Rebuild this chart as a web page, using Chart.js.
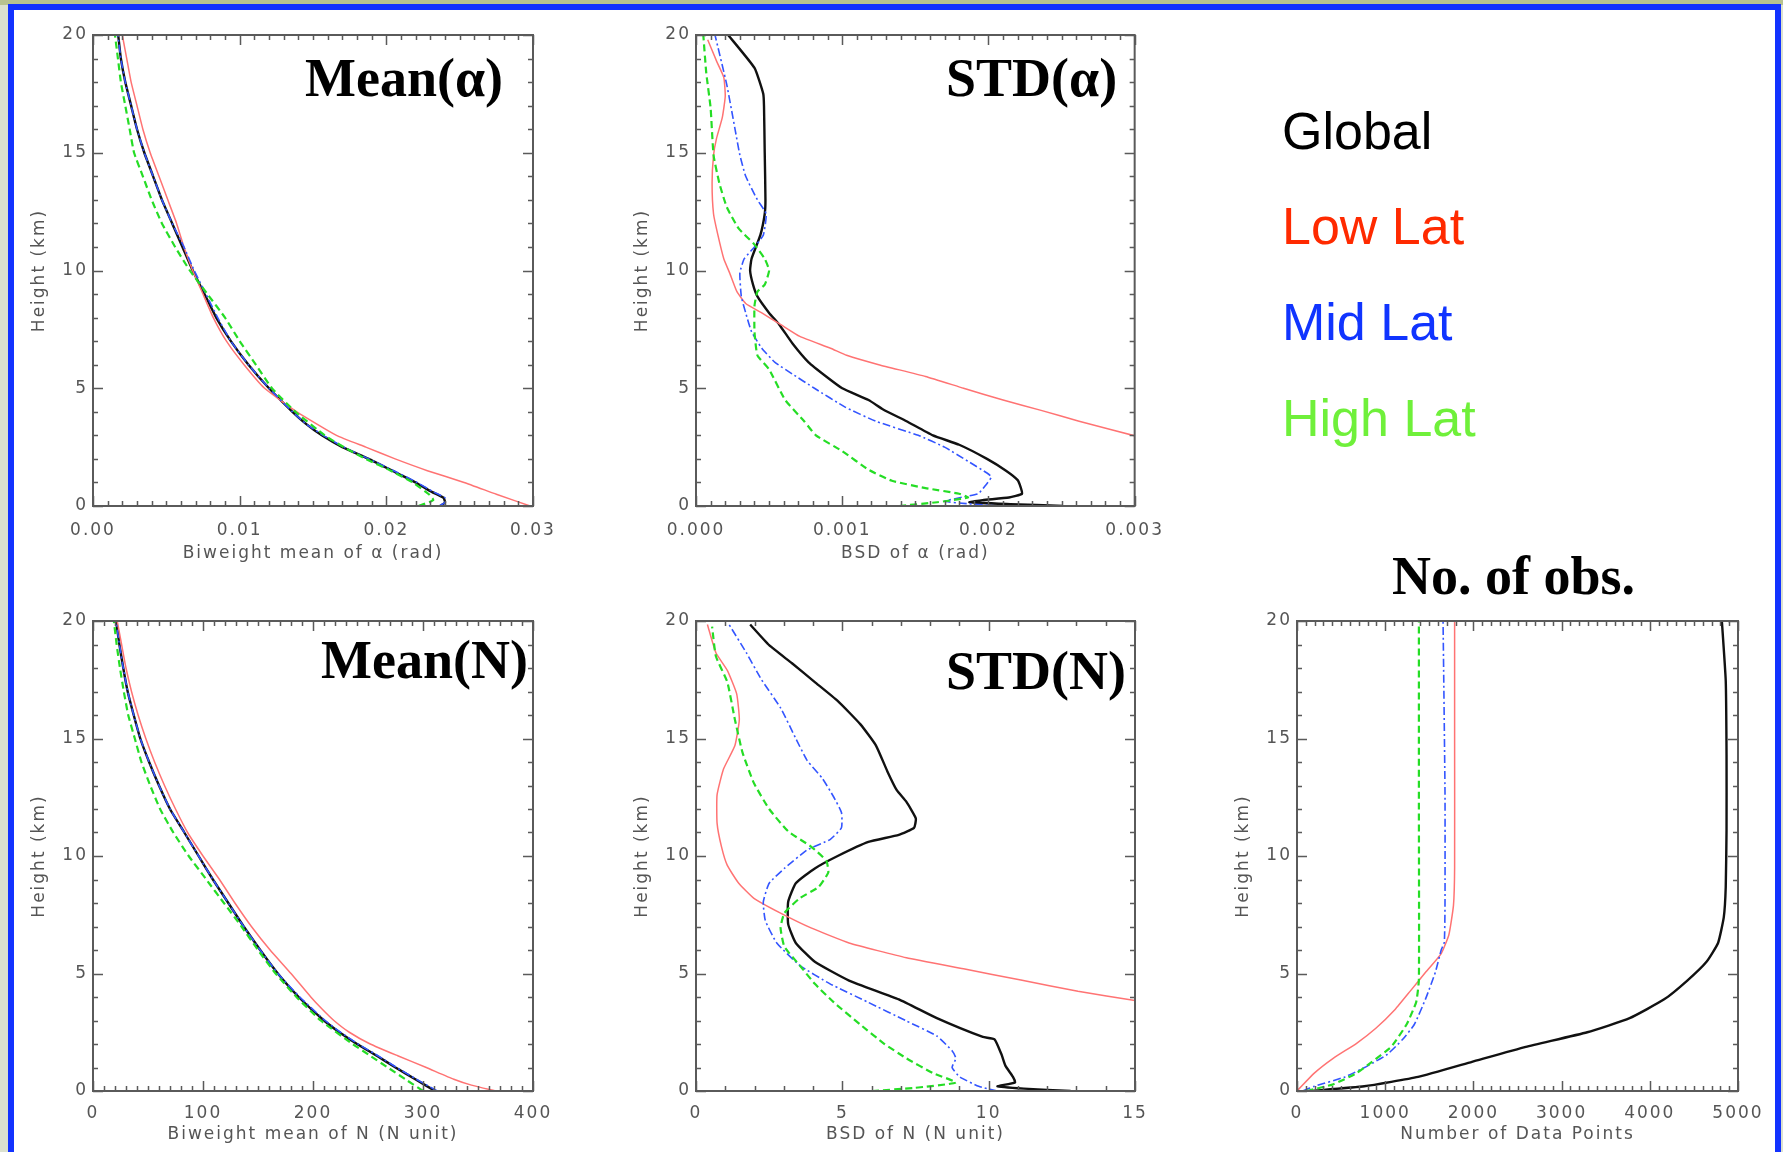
<!DOCTYPE html>
<html>
<head>
<meta charset="utf-8">
<script src="https://cdn.jsdelivr.net/npm/chart.js@4.4.1/dist/chart.umd.min.js"></script>
<style>
  html, body { margin: 0; padding: 0; width: 1783px; height: 1152px; overflow: hidden; background: #dbe1cf; }
  #topband { position: absolute; left: 0; top: 0; width: 1783px; height: 5px; background: #b8c390; }
  #frame { position: absolute; left: 8px; top: 4px; width: 1761px; height: 1170px; border: 6px solid #1232ff; background: #fff; }
  canvas { position: absolute; }
  .ttl { position: absolute; font-family: "Liberation Serif", "Times New Roman", serif; font-weight: bold; font-size: 54px; line-height: 54px; color: #000; white-space: nowrap; }
  .leg { position: absolute; font-family: "Liberation Sans", Arial, sans-serif; font-size: 52px; line-height: 52px; white-space: nowrap; }
</style>
</head>
<body>
<div id="topband"></div>
<div id="frame"></div>

<canvas id="c1" width="550" height="548" style="left:13px;top:20px"></canvas>
<canvas id="c2" width="549" height="548" style="left:616px;top:20px"></canvas>
<canvas id="c4" width="550" height="547" style="left:13px;top:606px"></canvas>
<canvas id="c5" width="549" height="547" style="left:616px;top:606px"></canvas>
<canvas id="c6" width="551" height="547" style="left:1217px;top:606px"></canvas>

<div class="ttl" style="left:305px;top:51px">Mean(α)</div>
<div class="ttl" style="left:946px;top:51px">STD(α)</div>
<div class="ttl" style="left:321px;top:633px">Mean(N)</div>
<div class="ttl" style="left:946px;top:644px">STD(N)</div>
<div class="ttl" style="left:1392px;top:549px">No. of obs.</div>

<div class="leg" style="left:1282px;top:105px;color:#000">Global</div>
<div class="leg" style="left:1282px;top:200px;color:#ff2a00">Low Lat</div>
<div class="leg" style="left:1282px;top:296px;color:#1034ff">Mid Lat</div>
<div class="leg" style="left:1282px;top:392px;color:#6ff03a">High Lat</div>

<script>
// 每條曲線: [高度(km), 數值]
const meanAlphaGlobal = [[0,0.0237],[0.15,0.0240],[0.35,0.0239],[0.6,0.0231],[1,0.0220],[1.5,0.0204],[2,0.0188],[2.5,0.0170],[3,0.0156],[3.5,0.0145],[4,0.0136],[5,0.0120],[6,0.0106],[7,0.0094],[8,0.0084],[9,0.0076],[10,0.0068],[11,0.0061],[12,0.0054],[13,0.0047],[14,0.0041],[15,0.0035],[16,0.0030],[17,0.0026],[18,0.0022],[19,0.0019],[20,0.00172]];
const meanAlphaLow = [[0,0.0298],[0.5,0.0275],[1,0.0253],[1.5,0.0228],[2,0.0206],[2.5,0.0186],[3,0.0166],[4,0.0139],[5,0.0117],[6,0.0103],[7,0.0091],[8,0.0082],[9,0.0075],[10,0.0068],[11,0.0062],[12,0.0057],[13,0.0051],[14,0.0045],[15,0.0039],[16,0.0034],[17,0.0030],[18,0.0026],[19,0.0023],[20,0.0020]];
const meanAlphaMid = [[0,0.0236],[0.15,0.0240],[0.35,0.0240],[0.6,0.0232],[1,0.0221],[1.5,0.0205],[2,0.0188],[2.5,0.0171],[3,0.0157],[3.5,0.0145],[4,0.0136],[5,0.0120],[6,0.0106],[7,0.0094],[8,0.0085],[9,0.0077],[10,0.0069],[11,0.0062],[12,0.0054],[13,0.0047],[14,0.0041],[15,0.0035],[16,0.0030],[17,0.0026],[18,0.0022],[19,0.0019],[20,0.00170]];
const meanAlphaHigh = [[0,0.0222],[0.25,0.0232],[0.5,0.0229],[1,0.0218],[1.5,0.0203],[2,0.0186],[2.5,0.0171],[3,0.0158],[4,0.0138],[5,0.0122],[6,0.0111],[7,0.0100],[8,0.0090],[9,0.0078],[10,0.0066],[11,0.0056],[12,0.0047],[13,0.0040],[14,0.0034],[15,0.0028],[16,0.0025],[17,0.0022],[18,0.0019],[19,0.0017],[20,0.0015]];

const stdAlphaGlobal = [[0,0.00251],[0.08,0.00215],[0.16,0.00187],[0.25,0.00196],[0.36,0.00214],[0.52,0.00223],[0.8,0.00222],[1.1,0.00220],[1.5,0.00212],[2,0.00199],[2.6,0.00180],[3,0.00162],[3.6,0.00144],[4.1,0.00128],[4.5,0.00118],[5,0.00100],[5.5,0.00089],[6.1,0.00077],[6.9,0.00066],[7.7,0.00057],[8.2,0.00050],[8.9,0.00042],[9.4,0.00039],[10,0.00037],[10.5,0.00038],[11.5,0.00044],[12.4,0.00047],[13,0.000475],[15,0.00047],[17,0.000465],[17.5,0.00046],[18.6,0.00040],[20,0.00022]];
const stdAlphaLow = [[2.9,0.00305],[3.6,0.00262],[4.06,0.00236],[4.5,0.00210],[5,0.00183],[5.5,0.00157],[6,0.00125],[6.4,0.00103],[6.7,0.00092],[7.2,0.00071],[7.7,0.00058],[8.2,0.00045],[8.6,0.00034],[9.1,0.00028],[9.9,0.00023],[10.5,0.00019],[11.5,0.00015],[12.4,0.00012],[13.7,0.00011],[14.9,0.00012],[15.6,0.00014],[16.5,0.00018],[17.4,0.00020],[18.2,0.00019],[18.9,0.00014],[19.8,0.00008]];
const stdAlphaMid = [[0,0.00207],[0.1,0.00185],[0.2,0.00170],[0.36,0.00181],[0.52,0.00193],[0.8,0.00197],[1.23,0.00202],[1.4,0.00199],[1.9,0.00186],[2.5,0.00170],[3,0.00152],[3.6,0.00123],[4.2,0.00102],[5,0.00081],[5.6,0.00066],[6.1,0.00054],[6.7,0.00045],[7.4,0.00038],[8.2,0.00034],[8.9,0.00031],[9.9,0.00030],[10.5,0.00033],[11,0.00040],[11.5,0.00046],[12.4,0.00048],[13,0.00042],[14,0.00034],[14.9,0.00030],[15.9,0.00027],[17.9,0.00021],[20,0.00013]];
const stdAlphaHigh = [[0,0.00139],[0.16,0.00165],[0.36,0.00186],[0.52,0.00180],[0.76,0.00157],[1.07,0.00134],[1.54,0.00118],[2.33,0.00100],[3,0.00082],[3.6,0.00074],[4.5,0.00061],[5.8,0.00050],[6.4,0.00042],[7.4,0.00040],[8.5,0.00040],[9.1,0.00042],[9.4,0.00047],[10,0.00050],[10.5,0.00047],[11.1,0.00040],[11.8,0.00029],[12.7,0.00021],[13.7,0.00016],[14.9,0.00012],[16.9,0.00010],[18.4,0.00007],[20,0.00005]];

const meanNGlobal = [[0,311],[0.5,293],[1,275],[1.5,258],[2,240],[2.5,224],[3,210],[4,187],[5,168],[6,152],[7,137],[8,123],[9,109],[10,96],[11,83],[12,70],[13,60],[14,51],[15,43],[16,37],[17,31.5],[18,27.5],[19,24],[20,21]];
const meanNLow = [[0,366],[0.25,344],[0.5,328],[1,303],[1.5,277],[2,252],[2.5,233],[3,219],[3.5,208],[4,198],[5,180],[6,161],[7,144],[8,129],[9,115],[10,100],[11,86],[12,75],[13,65],[14,56],[15,48],[16,41],[17,35],[18,30],[19,26],[20,22]];
const meanNMid = [[0,313],[0.5,294],[1,276],[1.5,259],[2,241],[2.5,225],[3,211],[4,188],[5,168],[6,152],[7,137],[8,123],[9,109],[10,96],[11,83],[12,70],[13,60],[14,51],[15,43],[16,37],[17,31.5],[18,27.5],[19,24],[20,21]];
const meanNHigh = [[0,300],[0.5,284],[1,268],[1.5,252],[2,236],[3,207],[4,185],[5,166],[6,150],[7,135],[8,119],[9,103],[10,87],[11,73],[12,61],[13,52],[14,44],[15,38],[16,32],[17,28],[18,24.5],[19,21.5],[20,19]];

const stdNGlobal = [[0,12.8],[0.1,11.2],[0.2,10.3],[0.36,10.9],[0.6,10.83],[1.08,10.57],[1.55,10.44],[2.2,10.2],[2.3,9.8],[3.1,8.23],[3.9,6.93],[4.7,5.23],[5.5,4.06],[6.3,3.41],[7.1,3.15],[8.05,3.15],[8.84,3.41],[9.47,4.06],[10,4.84],[10.6,5.89],[10.9,6.93],[11.2,7.45],[11.6,7.51],[12.3,7.19],[12.8,6.86],[13.6,6.54],[14.7,6.15],[15.6,5.62],[16.6,4.84],[17.4,4.06],[18.2,3.28],[18.97,2.5],[19.85,1.85]];
const stdNLow = [[3.85,15.0],[4.24,13.05],[4.72,11.1],[5.2,9.14],[5.67,7.19],[6.3,5.23],[6.94,3.93],[7.57,2.89],[8.2,1.98],[8.84,1.46],[9.6,1.07],[10.4,0.87],[11.4,0.72],[12.6,0.72],[13.7,0.94],[14.7,1.33],[15.8,1.48],[16.9,1.39],[17.9,1.07],[18.65,0.68],[19.85,0.39]];
const stdNMid = [[0,10.3],[0.2,9.66],[0.6,9.01],[1,8.75],[1.39,8.88],[1.71,8.75],[2.34,8.23],[2.98,7.19],[3.77,5.89],[4.56,4.58],[5.35,3.54],[6.3,2.76],[7.25,2.37],[8.05,2.3],[8.84,2.5],[9.47,3.02],[10.26,3.8],[10.7,4.58],[11.2,4.97],[11.85,4.97],[12.5,4.71],[13.3,4.32],[14.06,3.8],[15,3.41],[16.3,2.89],[17.5,2.24],[18.65,1.72],[19.85,1.13]];
const stdNHigh = [[0,6.02],[0.13,7.45],[0.36,8.88],[0.76,8.1],[1.39,7.19],[2.03,6.41],[2.82,5.62],[3.77,4.71],[4.56,4.06],[5.35,3.54],[6.14,3.02],[6.94,2.89],[7.57,3.02],[8.2,3.54],[8.68,4.19],[9.3,4.52],[9.8,4.45],[10.4,3.93],[11.05,3.15],[12,2.5],[13.1,1.98],[14.4,1.59],[15.8,1.33],[17.4,1.07],[18.5,0.68],[19.76,0.55]];

const obsGlobal = [[0,153],[0.2,763],[0.6,1373],[1.24,1984],[1.88,2594],[2.5,3291],[3.1,3771],[3.9,4163],[4.7,4425],[5.5,4643],[6.3,4774],[7.4,4839],[8.68,4861],[11.1,4870],[14.3,4870],[17.46,4861],[20,4817]];
const obsLow = [[0,0],[0.76,196],[1.4,414],[2.03,676],[2.67,894],[3.47,1112],[4.26,1286],[5.06,1460],[5.85,1635],[6.65,1722],[7.9,1774],[9.5,1787],[15,1787],[20,1787]];
const obsMid = [[0,65],[0.2,196],[0.6,545],[1.08,806],[1.56,1024],[2.2,1199],[2.83,1330],[3.94,1460],[5.06,1569],[6,1635],[6.33,1670],[7.9,1678],[12.7,1678],[20,1656]];
const obsHigh = [[0,109],[0.29,414],[0.76,676],[1.24,850],[1.88,1068],[2.83,1242],[3.78,1351],[4.74,1382],[12,1382],[20,1382]];

// 高度軸與各面板 X 軸刻度範圍
const heightRange = [0, 20];
const xRangeMeanAlpha = [0, 0.03];
const xRangeStdAlpha = [0, 0.003];
const xRangeMeanN = [0, 400];
const xRangeStdN = [0, 15];
const xRangeObs = [0, 5000];

const GREY = "#555555";
const tickFont = { family: "DejaVu Sans", size: 17 };

// 線條樣式 (Global / Low / Mid / High)
const lineStyles = [
  { borderColor: "#111111", borderWidth: 2.4, order: 3 },
  { borderColor: "#ff7373", borderWidth: 1.5, order: 2 },
  { borderColor: "#3355ff", borderWidth: 1.6, borderDash: [8, 3, 2, 3], order: 1 },
  { borderColor: "#25dd25", borderWidth: 2.2, borderDash: [7, 4], order: 0 },
];

// IDL 風格外框 + 向內刻度
const frameTicks = {
  id: "frameTicks",
  beforeDraw(chart) {
    chart.ctx.letterSpacing = "2px";
  },
  afterDatasetsDraw(chart, args, o) {
    const { ctx, chartArea: a, scales: { x, y } } = chart;
    ctx.save();
    ctx.setLineDash([]);
    ctx.strokeStyle = "#5a5a5a";
    ctx.lineWidth = 1.5;
    ctx.beginPath();
    const nx = Math.round((x.max - x.min) / o.xMinor);
    for (let i = 0; i <= nx; i++) {
      const px = Math.round(x.getPixelForValue(x.min + i * o.xMinor)) + 0.5;
      const len = i % o.xEvery === 0 ? 10 : 5;
      ctx.moveTo(px, a.bottom); ctx.lineTo(px, a.bottom - len);
      ctx.moveTo(px, a.top); ctx.lineTo(px, a.top + len);
    }
    const ny = Math.round((y.max - y.min) / o.yMinor);
    for (let i = 0; i <= ny; i++) {
      const py = Math.round(y.getPixelForValue(y.min + i * o.yMinor)) + 0.5;
      const len = i % o.yEvery === 0 ? 10 : 5;
      ctx.moveTo(a.left, py); ctx.lineTo(a.left + len, py);
      ctx.moveTo(a.right, py); ctx.lineTo(a.right - len, py);
    }
    ctx.stroke();
    ctx.lineWidth = 2;
    ctx.strokeRect(a.left, a.top, a.right - a.left, a.bottom - a.top);
    ctx.restore();
  },
};

function makePanel(id, xRange, xStep, dec, xMinor, xEvery, xTitle, row, series) {
  const xPad = row === 0 ? 6 : 4;
  const titlePad = row === 0 ? 4 : 8;
  return new Chart(document.getElementById(id), {
    type: "scatter",
    data: {
      datasets: series.map((s, i) =>
        Object.assign(
          {
            data: s.map((p) => ({ x: p[1], y: p[0] })),
            showLine: true,
            pointRadius: 0,
            fill: false,
            tension: 0.15,
          },
          lineStyles[i]
        )
      ),
    },
    options: {
      responsive: false,
      animation: false,
      devicePixelRatio: 1,
      layout: { padding: { left: 0, top: 15, right: 30, bottom: 0 } },
      plugins: {
        legend: { display: false },
        tooltip: { enabled: false },
        frameTicks: { xMinor, xEvery, yMinor: 1, yEvery: 5 },
      },
      scales: {
        x: {
          type: "linear",
          min: xRange[0],
          max: xRange[1],
          grid: { display: false },
          border: { display: false },
          ticks: {
            stepSize: xStep,
            autoSkip: false,
            maxRotation: 0,
            padding: xPad,
            color: GREY,
            font: tickFont,
            callback: (v) => v.toFixed(dec),
          },
          title: { display: true, text: xTitle, color: GREY, font: tickFont, padding: { top: 0, bottom: titlePad } },
          afterFit: (s) => { s.height = 62; },
        },
        y: {
          type: "linear",
          min: heightRange[0],
          max: heightRange[1],
          grid: { display: false },
          border: { display: false },
          ticks: { stepSize: 5, padding: -3, color: GREY, font: tickFont },
          title: { display: true, text: "Height (km)", color: GREY, font: tickFont, padding: { top: 16, bottom: 0 } },
          afterFit: (s) => { s.width = 80; },
        },
      },
    },
    plugins: [frameTicks],
  });
}

makePanel("c1", xRangeMeanAlpha, 0.01, 2, 0.001, 10, "Biweight mean of α (rad)", 0,
  [meanAlphaGlobal, meanAlphaLow, meanAlphaMid, meanAlphaHigh]);
makePanel("c2", xRangeStdAlpha, 0.001, 3, 0.0001, 10, "BSD of α (rad)", 0,
  [stdAlphaGlobal, stdAlphaLow, stdAlphaMid, stdAlphaHigh]);
makePanel("c4", xRangeMeanN, 100, 0, 10, 10, "Biweight mean of N (N unit)", 1,
  [meanNGlobal, meanNLow, meanNMid, meanNHigh]);
makePanel("c5", xRangeStdN, 5, 0, 1, 5, "BSD of N (N unit)", 1,
  [stdNGlobal, stdNLow, stdNMid, stdNHigh]);
makePanel("c6", xRangeObs, 1000, 0, 100, 10, "Number of Data Points", 1,
  [obsGlobal, obsLow, obsMid, obsHigh]);
</script>
</body>
</html>
